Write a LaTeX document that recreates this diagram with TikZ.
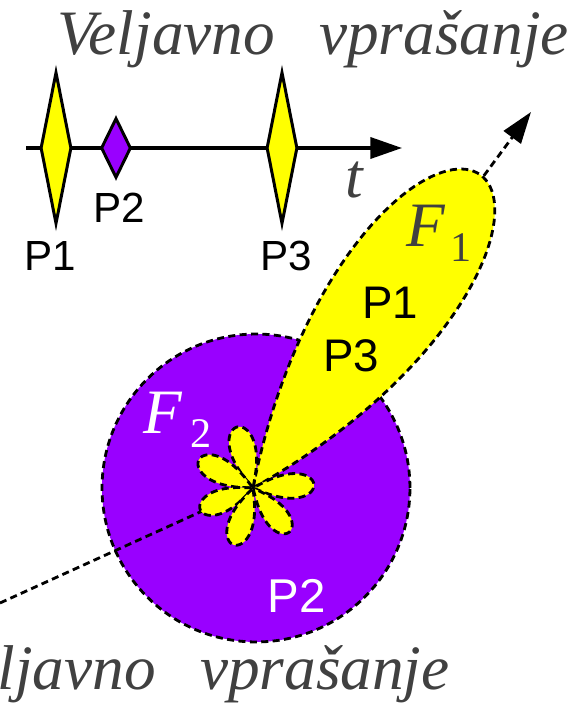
\documentclass[tikz,border=0pt]{standalone}
\usepackage{fontspec}
\setmainfont{Liberation Serif}
\newfontfamily\arialfont{Liberation Sans}
\usetikzlibrary{shapes.geometric, arrows.meta, positioning}
\definecolor{Pulse}{HTML}{FFFF00}
\definecolor{Violet}{HTML}{9900FF}
\definecolor{Ink}{HTML}{404040}

\begin{document}
\begin{tikzpicture}[x=0.02cm, y=0.02cm,
  pulse/.style={shape=diamond, draw, line width=1.7pt, inner sep=0pt, minimum width=0.62cm},
  lbl/.style={font=\arialfont\fontsize{#1}{#1}\selectfont, inner sep=0pt}, lbl/.default=24,
  big/.style={font=\itshape\fontsize{36}{36}\selectfont, text=Ink, inner sep=0pt},
  dsh/.style={line width=1.6pt, dash pattern=on 4pt off 2.5pt}]
  \useasboundingbox (0,0) rectangle (585,708);
  \node (title) [big, anchor=base east] at (569,653) {Veljavno\hspace{0.7em}vprašanje};
  \node (ground) [big, anchor=base east] at (450,18) {ljavno\hspace{0.7em}vprašanje};

  \coordinate (tstart) at (26,560);
  \coordinate (tend) at (402,560);
  \draw[line width=1.9pt, -{Triangle[length=18pt, width=12pt]}] (tstart) -- (tend);
  \node (p1) [pulse, fill=Pulse, minimum height=3.04cm] at (56,560) {};
  \node (p2) [pulse, fill=Violet, minimum width=0.6cm, minimum height=1.2cm] at (116,560) {};
  \node (p3) [pulse, fill=Pulse, minimum height=3.04cm] at (282,560) {};
  \node (l1) [lbl] at (50,452) {P1};
  \node (l2) [lbl] at (119,500) {P2};
  \node (l3) [lbl] at (286,452) {P3};
  \node (t) [big, anchor=base west] at (345,510) {t};

  \node (f2) [circle, fill=Violet, draw, dsh, minimum size=6.16cm, inner sep=0pt] at (256,220) {};
  \coordinate (o) at (253,220);
  \coordinate (lo) at (0,105);
  \coordinate (hi) at (531,596);
  \draw[dsh] (lo) -- (o);
  \draw[dsh, -{Triangle[length=18pt, width=12pt]}] (o) -- (hi);
  \draw[dsh, fill=Pulse, shift={(o)}, rotate=54] plot[domain=-22.5:22.5, samples=91]
    ({387*cos(4*\x)*cos(\x)}, {1.12*387*cos(4*\x)*sin(\x)}) -- cycle;
  \foreach \a/\r in {3/61, 104.6/63, 152.5/61, 202.4/57, 251.1/60, 309.4/57}
    \draw[dsh, fill=Pulse, shift={(o)}, rotate=\a] plot[domain=-25.7:25.7, samples=61]
      (\x:{\r*(cos(3.5*\x)+0.0005)^0.55}) -- cycle;

  \node (f1lbl) [big, anchor=base west] at (406,461) {F\kern2.9pt\raisebox{-8.5pt}{\upshape\fontsize{24}{24}\selectfont 1}};
  \node (f2lbl) [big, text=white, anchor=base west] at (143,275) {F\kern5pt\raisebox{-8pt}{\upshape\fontsize{24}{24}\selectfont 2}};
  \node (q1) [lbl=26] at (390,405) {P1};
  \node (q3) [lbl=26] at (351,352) {P3};
  \node (q2) [lbl=27, text=white] at (297,112) {P2};
\end{tikzpicture}
\end{document}
